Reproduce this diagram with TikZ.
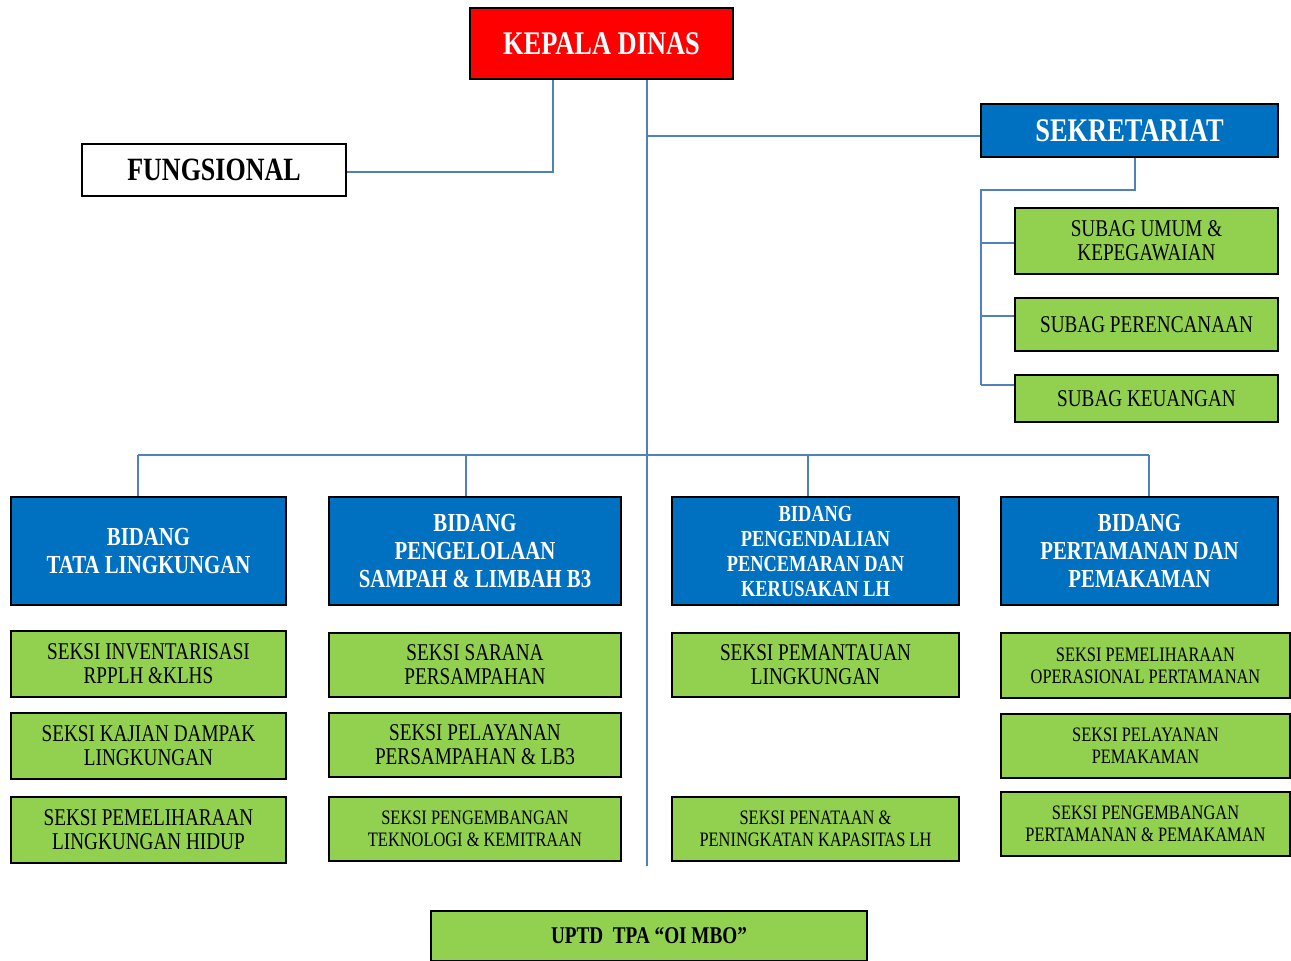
\documentclass[tikz,border=0pt]{standalone}
\usepackage{fontspec}
\usepackage{tikz}
\usetikzlibrary{positioning}
\setmainfont{Liberation Serif}
\newfontfamily\cond[FakeStretch=0.8]{Liberation Serif}

\definecolor{kadisred}{HTML}{FF0000}
\definecolor{bidangblue}{HTML}{0070C0}
\definecolor{seksigreen}{HTML}{92D050}
\definecolor{linkblue}{HTML}{4F81BD}

\tikzset{
    box/.style={draw=black, line width=1.6pt, inner sep=0pt, align=center},
    kadisbox/.style={box, fill=kadisred, text=white, minimum width=263, minimum height=71,
        font=\cond\bfseries\fontsize{33}{36}\selectfont},
    fungbox/.style={box, fill=white, minimum width=264, minimum height=52,
        font=\cond\bfseries\fontsize{32.5}{34}\selectfont},
    sekrebox/.style={box, fill=bidangblue, text=white, minimum width=297, minimum height=53,
        font=\cond\bfseries\fontsize{33}{36}\selectfont},
    bidangbox/.style={box, fill=bidangblue, text=white, minimum height=108,
        font=\cond\bfseries\fontsize{26}{28}\selectfont},
    seksibox/.style={box, fill=seksigreen, font=\cond\fontsize{24}{24}\selectfont},
    smallseksi/.style={seksibox, font=\cond\fontsize{20.5}{22}\selectfont},
    link/.style={draw=linkblue, line width=1.6pt}
}

\begin{document}
\begin{tikzpicture}[x=1pt, y=-1pt]
        \useasboundingbox (0,0) rectangle (1291,961);
        % Top level
        \node[kadisbox] (kadis) at (601.5,43.5) {KEPALA DINAS};
        \node[fungbox] (fungsional) at (214,170) {FUNGSIONAL};
        \node[sekrebox] (sekre) at (1129.5,130.5) {SEKRETARIAT};
        % Subbagian
        \node[seksibox, minimum width=263, minimum height=66] (subagA) at (1146.5,241) {SUBAG UMUM \&\\KEPEGAWAIAN};
        \node[seksibox, minimum width=263, minimum height=53] (subagB) at (1146.5,324.5) {SUBAG PERENCANAAN};
        \node[seksibox, minimum width=263, minimum height=47] (subagC) at (1146.5,398.5) {SUBAG KEUANGAN};
        % Bidang
        \node[bidangbox, minimum width=275] (bidA) at (148.5,551) {BIDANG\\TATA LINGKUNGAN};
        \node[bidangbox, minimum width=292] (bidB) at (475,551) {BIDANG\\PENGELOLAAN\\SAMPAH \& LIMBAH B3};
        \node[bidangbox, minimum width=287, font=\cond\bfseries\fontsize{23}{25}\selectfont] (bidC) at (815.5,551) {BIDANG\\PENGENDALIAN\\PENCEMARAN DAN\\KERUSAKAN LH};
        \node[bidangbox, minimum width=277] (bidD) at (1139.5,551) {BIDANG\\PERTAMANAN DAN\\PEMAKAMAN};
        % Seksi under Tata Lingkungan
        \node[seksibox, minimum width=275, minimum height=66] (sekA1) at (148.5,664) {SEKSI INVENTARISASI\\RPPLH \&KLHS};
        \node[seksibox, minimum width=275, minimum height=66] (sekA2) at (148.5,746) {SEKSI KAJIAN DAMPAK\\LINGKUNGAN};
        \node[seksibox, minimum width=275, minimum height=66] (sekA3) at (148.5,830) {SEKSI PEMELIHARAAN\\LINGKUNGAN HIDUP};
        % Seksi under Pengelolaan Sampah
        \node[seksibox, minimum width=292, minimum height=64] (sekB1) at (475,665) {SEKSI SARANA\\PERSAMPAHAN};
        \node[seksibox, minimum width=292, minimum height=64] (sekB2) at (475,745) {SEKSI PELAYANAN\\PERSAMPAHAN \& LB3};
        \node[smallseksi, minimum width=292, minimum height=64] (sekB3) at (475,829) {SEKSI PENGEMBANGAN\\TEKNOLOGI \& KEMITRAAN};
        % Seksi under Pengendalian
        \node[seksibox, minimum width=287, minimum height=64] (sekC1) at (815.5,665) {SEKSI PEMANTAUAN\\LINGKUNGAN};
        \node[smallseksi, minimum width=287, minimum height=64] (sekC3) at (815.5,829) {SEKSI PENATAAN \&\\PENINGKATAN KAPASITAS LH};
        % Seksi under Pertamanan
        \node[smallseksi, minimum width=289, minimum height=65] (sekD1) at (1145.5,665.5) {SEKSI PEMELIHARAAN\\OPERASIONAL PERTAMANAN};
        \node[smallseksi, minimum width=289, minimum height=64] (sekD2) at (1145.5,746) {SEKSI PELAYANAN\\PEMAKAMAN};
        \node[smallseksi, minimum width=289, minimum height=64] (sekD3) at (1145.5,824) {SEKSI PENGEMBANGAN\\PERTAMANAN \& PEMAKAMAN};
        % UPTD
        \node[seksibox, minimum width=436, minimum height=50, font=\cond\bfseries\fontsize{24}{24}\selectfont] (uptd) at (649,936) {UPTD\ \ TPA “OI MBO”};

        % Connectors
        \coordinate (trunkend) at (647,866);
        \coordinate (subagbus) at (981,190);
        \coordinate (bus) at (647,455);
        \draw[link] ([xshift=-48.5pt]kadis.south) |- ([yshift=-2pt]fungsional.east);
        \draw[link] (kadis.south -| trunkend) -- (trunkend);
        \draw[link] ([yshift=-5.5pt]sekre.west -| trunkend) -- ([yshift=-5.5pt]sekre.west);
        \draw[link] ([xshift=5.5pt]sekre.south) |- (subagbus) -- ([yshift=13.5pt]subagC.west -| subagbus);
        \foreach \n/\dy in {subagA/-2, subagB/8.5, subagC/13.5}
            \draw[link] ([yshift=\dy pt]\n.west -| subagbus) -- ([yshift=\dy pt]\n.west);
        \draw[link] ([xshift=-10.5pt]bidA.north |- bus) -- ([xshift=9.5pt]bidD.north |- bus);
        \foreach \n/\dx in {bidA/-10.5, bidB/-9, bidC/-7.5, bidD/9.5}
            \draw[link] ([xshift=\dx pt]\n.north |- bus) -- ([xshift=\dx pt]\n.north);
\end{tikzpicture}
\end{document}
